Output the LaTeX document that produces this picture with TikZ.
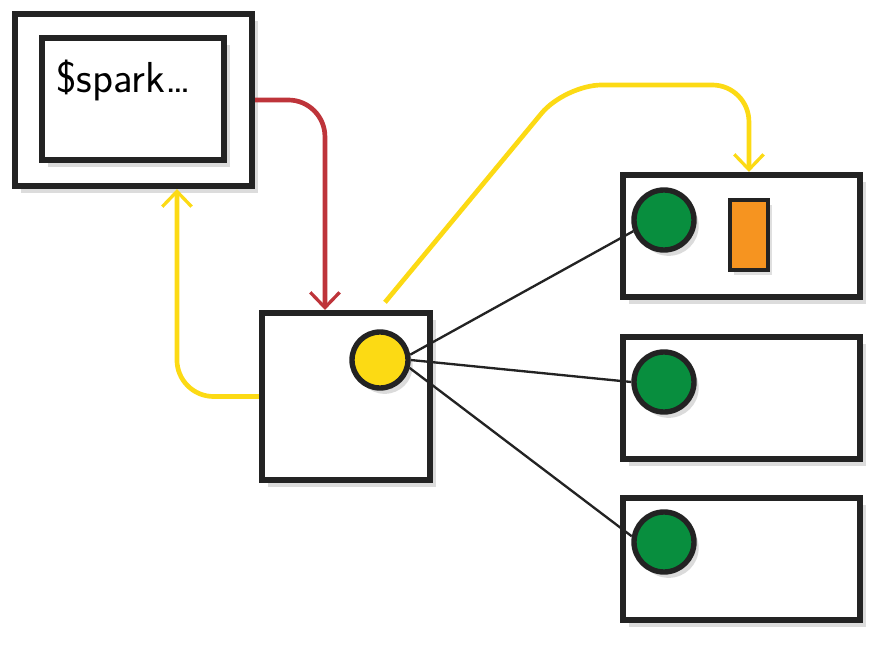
\documentclass[tikz,border=0pt]{standalone}
\usepackage{tikz}
\usetikzlibrary{arrows.meta,shadows,calc}
\definecolor{inkblack}{RGB}{35,35,35}
\definecolor{sparkyellow}{RGB}{252,218,20}
\definecolor{sparkred}{RGB}{190,52,58}
\definecolor{sparkgreen}{RGB}{8,142,62}
\definecolor{sparkorange}{RGB}{246,148,32}
\tikzstyle{machine} = [
  draw=inkblack,
  line width=5.2pt,
  fill=white,
  rectangle,
  inner sep=0pt,
  drop shadow={opacity=0.28,shadow xshift=5pt,shadow yshift=-6pt},
]
\tikzstyle{proc} = [
  draw=inkblack,
  line width=4.6pt,
  circle,
  inner sep=0pt,
  drop shadow={opacity=0.28,shadow xshift=4pt,shadow yshift=-5pt},
]
\tikzstyle{task} = [
  draw=inkblack,
  line width=2.6pt,
  fill=sparkorange,
  rectangle,
  inner sep=0pt,
  minimum width=1.14cm,
  minimum height=2.1cm,
  drop shadow={opacity=0.25,shadow xshift=3pt,shadow yshift=-4pt},
]
\tikzstyle{flow} = [
  line width=4pt,
  rounded corners=1.1cm,
  -{Straight Barb[length=13pt,width=25pt,line width=2.8pt]},
]
\tikzstyle{wire} = [
  draw=inkblack,
  line width=2pt,
]

\begin{document}
\begin{tikzpicture}[
    x=0.03cm,
    y=-0.03cm,
  ]
  \useasboundingbox (0,0) rectangle (889,649);
  \node[
    machine,
    minimum width=7.11cm,
    minimum height=5.16cm,
  ](client) at (133.5,100) {};
  \node[
    machine,
    minimum width=5.46cm,
    minimum height=3.66cm,
  ](shell) at (133,99) {};
  \node[
    anchor=west,
    font=\sffamily\fontsize{37}{40}\selectfont,
  ](cmd) at (52,80) {\$spark\ldots};
  \node[
    machine,
    minimum width=5.04cm,
    minimum height=5.01cm,
  ](driver) at (346,396.5) {};
  \node[
    proc,
    fill=sparkyellow,
    minimum size=1.68cm,
  ](exec) at (380,360) {};
  \node[
    machine,
    minimum width=7.11cm,
    minimum height=3.66cm,
  ](worka) at (741.5,236) {};
  \node[
    machine,
    minimum width=7.11cm,
    minimum height=3.66cm,
  ](workb) at (741.5,398) {};
  \node[
    machine,
    minimum width=7.11cm,
    minimum height=3.66cm,
  ](workc) at (741.5,559) {};
  \node[
    proc,
    fill=sparkgreen,
    minimum size=1.8cm,
  ](ga) at (664,220) {};
  \node[
    proc,
    fill=sparkgreen,
    minimum size=1.8cm,
  ](gb) at (664,382) {};
  \node[
    proc,
    fill=sparkgreen,
    minimum size=1.8cm,
  ](gc) at (664,542) {};
  \node[task](job) at (749,235) {};
  \coordinate (ystart) at ($(exec.north)+(5,-27)$);
  \draw [flow, sparkred] (client.east) -| ($(driver.north west)+(66,0)$);
  \draw [flow, sparkyellow] (driver.west) -| ($(client.south west)+(165,0)$);
  \draw [flow, sparkyellow] (ystart) -- (565,85) -| ($(worka.north west)+(129,0)$);
  \draw [wire] (exec.10) -- (ga.200);
  \draw [wire] (exec.east) -- (gb.west);
  \draw [wire] (exec.-15) -- (gc.170);
\end{tikzpicture}
\end{document}
